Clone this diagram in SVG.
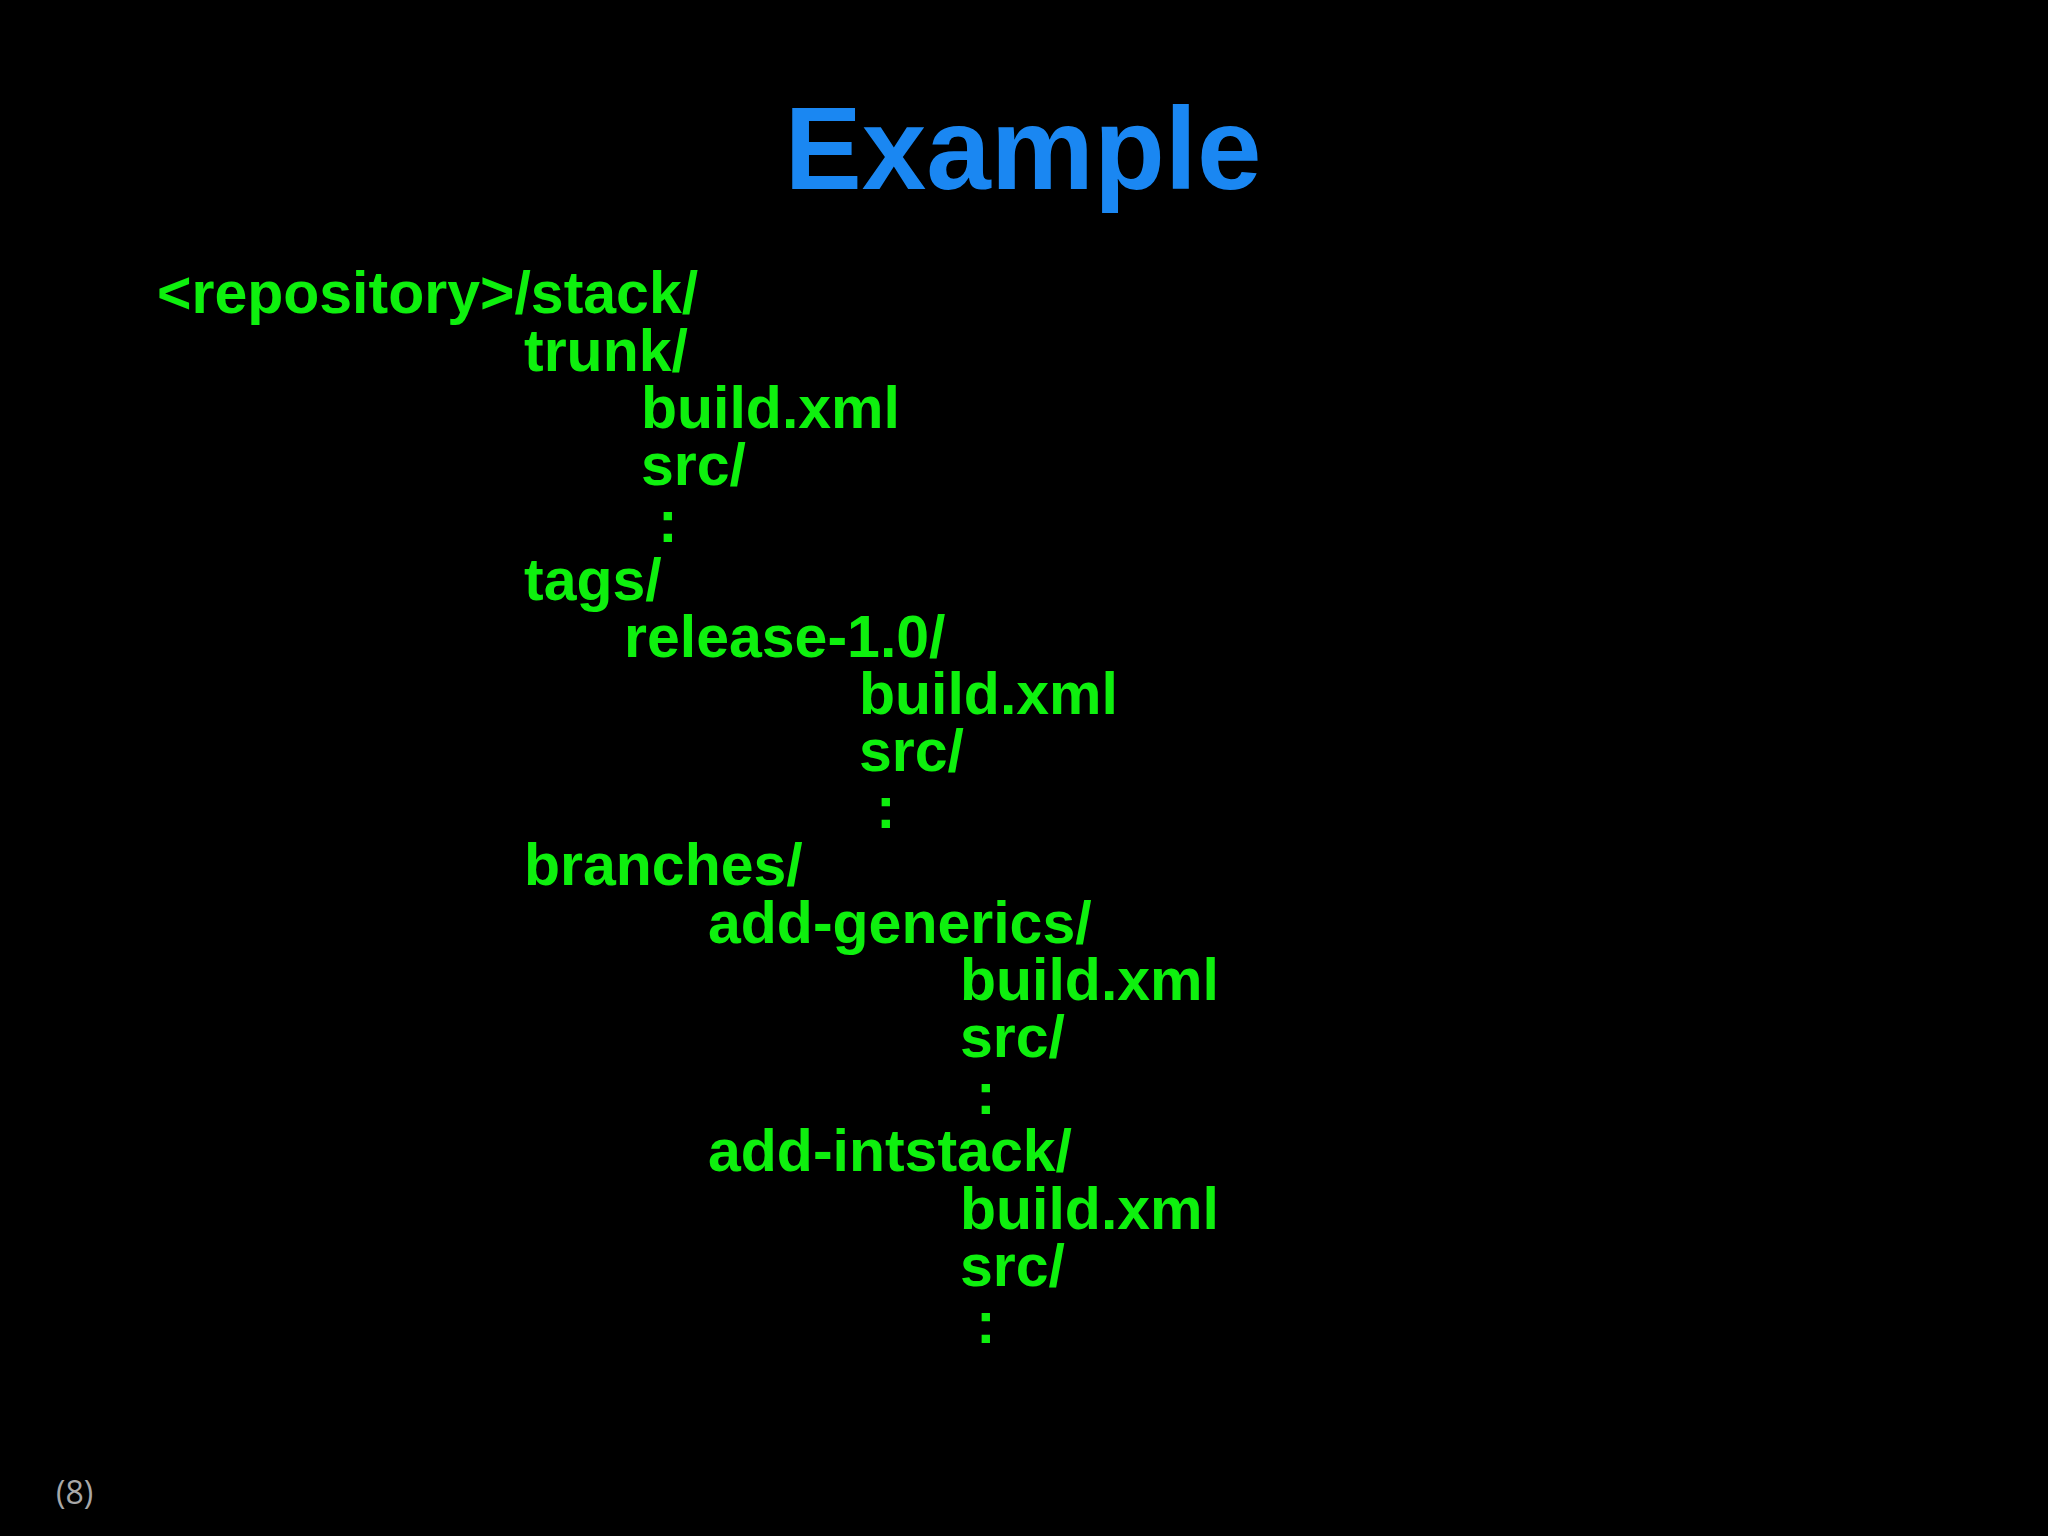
<svg xmlns="http://www.w3.org/2000/svg" width="2048" height="1536" viewBox="0 0 2048 1536">
<style>
.t{font-family:"Liberation Sans",Arial,sans-serif;font-weight:bold;font-size:59px;fill:#0ef00e}
.h{font-family:"Liberation Sans",Arial,sans-serif;font-weight:bold;font-size:116px;fill:#1a87f2}
.n{font-family:"Open Sans","Liberation Sans",sans-serif;font-size:32px;fill:#a8a8a8}
</style>
<rect width="2048" height="1536" fill="#000"/>
<g id="title"><text class="h" x="1023" y="189" text-anchor="middle">Example</text></g>
<g id="tree">
<text class="t" x="157" y="313">&lt;repository&gt;/stack/</text>
<text class="t" x="524" y="371">trunk/</text>
<text class="t" x="641" y="428">build.xml</text>
<text class="t" x="641" y="485">src/</text>
<text class="t" x="658" y="542">:</text>
<text class="t" x="524" y="600">tags/</text>
<text class="t" x="624" y="657">release-1.0/</text>
<text class="t" x="859" y="714">build.xml</text>
<text class="t" x="859" y="771">src/</text>
<text class="t" x="876" y="828">:</text>
<text class="t" x="524" y="885">branches/</text>
<text class="t" x="708" y="943">add-generics/</text>
<text class="t" x="960" y="1000">build.xml</text>
<text class="t" x="960" y="1057">src/</text>
<text class="t" x="976" y="1114">:</text>
<text class="t" x="708" y="1171">add-intstack/</text>
<text class="t" x="960" y="1229">build.xml</text>
<text class="t" x="960" y="1286">src/</text>
<text class="t" x="976" y="1343">:</text>
</g>
<g id="page"><text class="n" x="56" y="1504">(8)</text></g>
</svg>
